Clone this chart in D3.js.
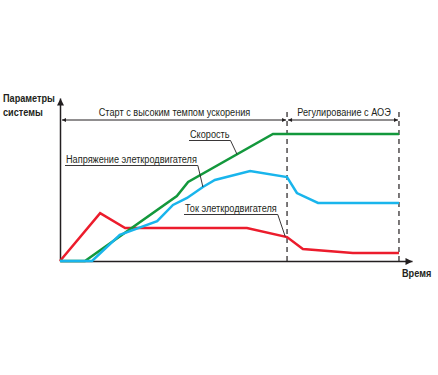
<!DOCTYPE html>
<html>
<head>
<meta charset="utf-8">
<script src="https://cdn.jsdelivr.net/npm/d3@7"></script>
<style>
  body { margin: 0; background: #fff; }
  text { font-family: "Liberation Sans", Arial, sans-serif; fill: #231f20; }
  .bold { font-weight: bold; }
</style>
</head>
<body>
<div id="chart"></div>
<script>
// time in conventional units (0..100 = full length of the time axis)
var greenT = [0, 7.1, 33.2, 36.4, 60.5, 96.3];
var greenV = [0, 0, 39.9, 48.5, 77.9, 77.9];
var blueT = [0, 9.1, 17.0, 27.6, 32.1, 36.1, 40.6, 44.0, 54.0, 64.5, 67.3, 73.3, 96.3];
var blueV = [0, 0, 16.0, 24.5, 34.4, 38.7, 45.4, 49.7, 55.2, 51.5, 41.7, 35.6, 35.6];
var redT = [0, 11.4, 18.5, 53.1, 64.5, 69.0, 83.2, 96.3];
var redV = [0, 29.4, 20.2, 20.2, 14.7, 7.4, 4.9, 4.9];
var phaseBounds = [0, 64.5, 96.3];
var phaseNames = ['Старт с высоким темпом ускорения', 'Регулирование с АОЭ'];
var seriesNames = ['Скорость', 'Напряжение элеткродвигателя', 'Ток элеткродвигателя'];

(function(d3) {
	'use strict';

	var width = 438;
	var height = 375;
	var ink = '#231f20';
	var fontSize = 11;

	var x = d3.scaleLinear().domain([0, 100]).range([60, 412]);
	var y = d3.scaleLinear().domain([0, 100]).range([261, 98]);

	var svg = d3.select('#chart')
		.append('svg')
		.attr('width', width)
		.attr('height', height);

	// the original uses a condensed face: squeeze the regular one horizontally
	function measure(str, bold, size) {
		var t = svg.append('text')
			.attr('class', bold ? 'bold' : null)
			.style('font-size', size + 'px')
			.text(str);
		var w = t.node().getComputedTextLength();
		t.remove();
		return w;
	}
	var squeeze = 131 / measure(seriesNames[1], false, fontSize);
	var squeezeBold = 52 / measure('Параметры', true, 11.5);

	function label(px, py, str, opts) {
		opts = opts || {};
		var k = opts.bold ? squeezeBold : squeeze;
		var t = svg.append('text')
			.attr('transform', 'translate(' + px + ',' + py + ') scale(' + k + ',1)')
			.attr('class', opts.bold ? 'bold' : null)
			.attr('text-anchor', opts.anchor || 'start')
			.style('font-size', (opts.size || fontSize) + 'px')
			.text(str);
		return t.node().getComputedTextLength() * k;
	}

	var defs = svg.append('defs');
	defs.append('marker')
		.attr('id', 'arr')
		.attr('viewBox', '0 0 10 10')
		.attr('refX', 10)
		.attr('refY', 5)
		.attr('markerUnits', 'userSpaceOnUse')
		.attr('markerWidth', 9)
		.attr('markerHeight', 7)
		.attr('orient', 'auto-start-reverse')
		.append('path')
		.attr('d', 'M0,0L10,5L0,10Z')
		.attr('fill', ink);
	defs.append('marker')
		.attr('id', 'arrSmall')
		.attr('viewBox', '0 0 10 10')
		.attr('refX', 10)
		.attr('refY', 5)
		.attr('markerUnits', 'userSpaceOnUse')
		.attr('markerWidth', 7)
		.attr('markerHeight', 4)
		.attr('orient', 'auto-start-reverse')
		.append('path')
		.attr('d', 'M0,0L10,5L0,10Z')
		.attr('fill', ink);

	// axes (no ticks, arrowheads at the ends)
	var xAxis = svg.append('g')
		.attr('transform', 'translate(0,' + y(0) + ')')
		.call(d3.axisBottom(x).ticks(0).tickSizeOuter(0));
	xAxis.select('.domain')
		.attr('stroke', ink)
		.attr('stroke-width', 1.5)
		.attr('marker-end', 'url(#arr)');

	var yAxis = svg.append('g')
		.attr('transform', 'translate(' + x(0) + ',0)')
		.call(d3.axisLeft(y).ticks(0).tickSizeOuter(0));
	yAxis.select('.domain')
		.attr('stroke', ink)
		.attr('stroke-width', 1.5)
		.attr('marker-end', 'url(#arr)');

	// phase boundaries
	svg.selectAll('.bound')
		.data(phaseBounds.slice(1))
		.enter()
		.append('line')
		.attr('class', 'bound')
		.attr('x1', function(d) { return x(d); })
		.attr('x2', function(d) { return x(d); })
		.attr('y1', y(0))
		.attr('y2', 108)
		.attr('stroke', ink)
		.attr('stroke-width', 1.2)
		.attr('stroke-dasharray', '5,4');

	// phase spans with double arrows
	var spanY = 120;
	phaseNames.forEach(function(name, i) {
		var t0 = phaseBounds[i];
		var t1 = phaseBounds[i + 1];
		svg.append('line')
			.attr('x1', x(t0) + (i == 0 ? 2 : 1))
			.attr('x2', x(t1) - 1)
			.attr('y1', spanY)
			.attr('y2', spanY)
			.attr('stroke', ink)
			.attr('stroke-width', 1)
			.attr('marker-start', 'url(#arrSmall)')
			.attr('marker-end', 'url(#arrSmall)');
		label((x(t0) + x(t1)) / 2 + 1, spanY - 4, name, {anchor: 'middle'});
	});

	// curves
	var line = d3.line()
		.x(function(d) { return x(d[0]); })
		.y(function(d) { return y(d[1]); });

	var series = [
		{t: redT, v: redV, color: '#ec1c2c'},
		{t: greenT, v: greenV, color: '#13983c'},
		{t: blueT, v: blueV, color: '#19b5ec'}
	];
	svg.selectAll('.curve')
		.data(series)
		.enter()
		.append('path')
		.attr('class', 'curve')
		.attr('d', function(d) { return line(d3.zip(d.t, d.v)); })
		.attr('fill', 'none')
		.attr('stroke', function(d) { return d.color; })
		.attr('stroke-width', 2.5);

	// callouts: label, underline and leader to the curve
	var callouts = [
		{name: seriesNames[0], tx: 190, ty: 138, t: greenT, v: greenV, at: 50.3},
		{name: seriesNames[1], tx: 66, ty: 163, t: blueT, v: blueV, at: 40.6},
		{name: seriesNames[2], tx: 185, ty: 212, t: redT, v: redV, at: 64.0}
	];
	callouts.forEach(function(c) {
		var w = label(c.tx, c.ty, c.name);
		var ux = c.tx + w + 1;
		var uy = c.ty + 2.5;
		var target = y(d3.scaleLinear().domain(c.t).range(c.v)(c.at));
		svg.append('path')
			.attr('d', 'M' + (c.tx - 1) + ',' + uy + 'H' + ux + 'L' + x(c.at) + ',' + target)
			.attr('fill', 'none')
			.attr('stroke', ink)
			.attr('stroke-width', 0.9);
	});

	// axis titles
	label(3, 102, 'Параметры', {bold: true, size: 11.5});
	label(3, 116, 'системы', {bold: true, size: 11.5});
	label(402, 277, 'Время', {bold: true, size: 11.5});

})(window.d3);
</script>
</body>
</html>
